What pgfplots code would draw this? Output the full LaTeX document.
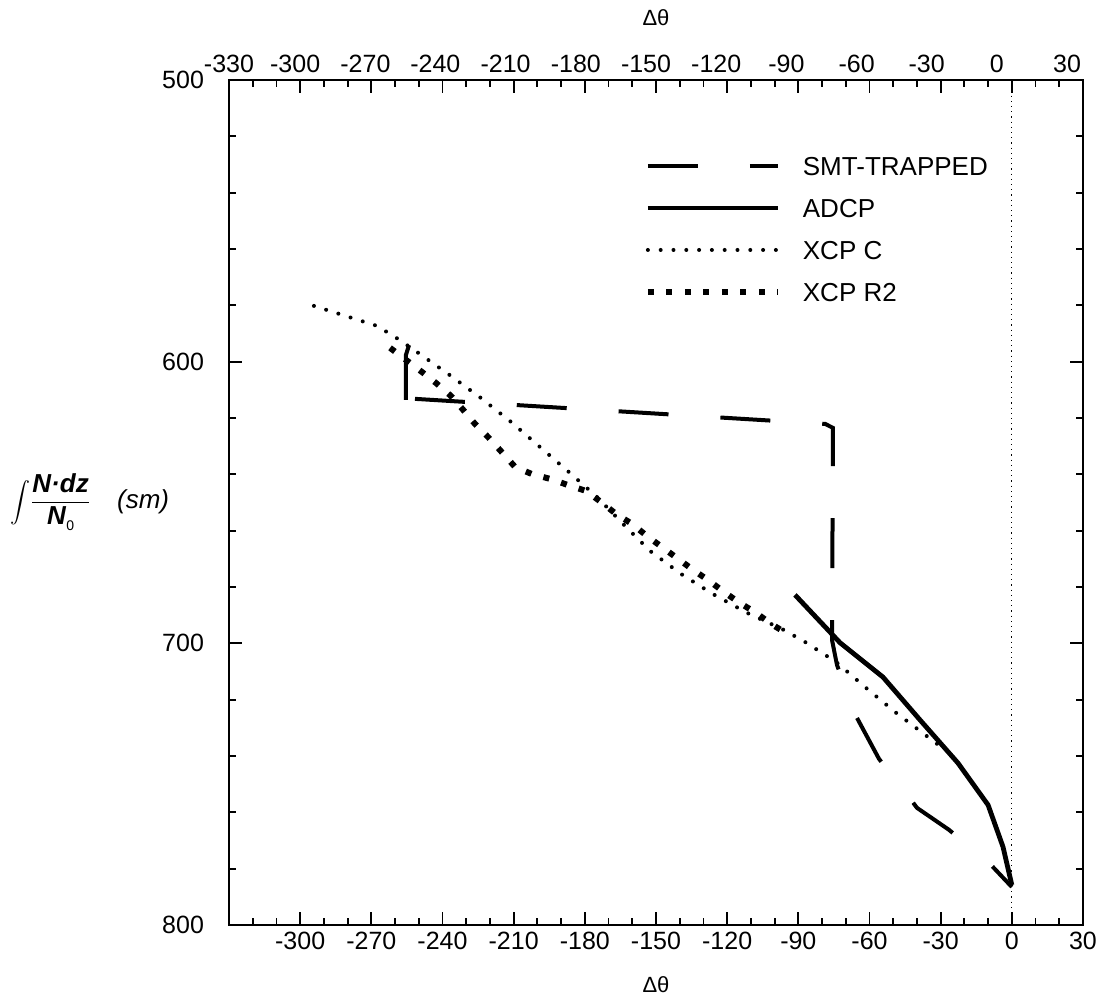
\documentclass[border=0pt]{standalone}
\usepackage{fontspec}
\setmainfont{Liberation Sans}
\usepackage{pgfplots}
\pgfplotsset{compat=1.18}

\pgfplotstableread{
x y
-254.1 594.1
-255.4 597.6
-255.4 613.6
}\smtA

\pgfplotstableread{
x y
-251.6 613.2
-78.7 622.1
-75.4 623.5
-75.8 698.8
-73.7 707.7
-65.7 725.8
-56.0 741.0
-42.1 756.0
-40.0 758.4
-26.5 766.2
-9.2 778.3
0.0 786.5
}\smt

\pgfplotstableread{
x y
-91.4 682.8
-72.4 699.8
-54.3 712.0
-38.7 727.2
-22.7 742.5
-10.0 757.4
-3.7 772.3
0.0 785.8
}\adcp

\pgfplotstableread{
x y
-294.2 580.2
-278.1 584.5
-267.6 587.3
-258.8 591.9
-249.5 597.3
-236.4 605.1
-223.8 612.9
-211.1 621.4
-198.9 630.3
-186.7 639.2
-174.9 648.0
-163.9 657.6
-152.5 667.2
-139.4 675.4
-126.0 682.5
-111.6 689.2
-96.9 694.9
-87.2 699.5
-74.1 706.6
-61.9 715.5
-49.2 724.4
-31.5 735.7
}\xcpc

\pgfplotstableread{
x y
-262.1 595.1
-248.6 603.7
-242.7 607.6
-236.4 612.2
-231.3 617.1
-226.3 622.1
-220.4 627.1
-214.9 632.2
-209.4 637.4
-202.3 639.9
-194.7 641.6
-187.1 643.8
-179.5 645.9
-173.2 649.8
-166.8 654.1
-160.1 657.6
-153.8 661.9
-147.5 665.8
-140.7 670.0
-134.4 673.9
-127.6 677.8
-121.3 681.8
-114.6 685.7
-107.8 689.2
-101.5 693.1
-93.9 697.0
}\xcpr

\begin{document}
\begin{tikzpicture}
\useasboundingbox (-114.5pt,-40pt) rectangle (435pt,462.5pt);
\begin{axis}[
  at={(0pt,0pt)}, anchor=south west,
  scale only axis, width=427pt, height=422.5pt,
  xmin=-330, xmax=30, ymin=500, ymax=800, y dir=reverse,
  xtick={-330,-300,...,30},
  xticklabels={{},-300,-270,-240,-210,-180,-150,-120,-90,-60,-30,0,30},
  minor xtick={-330,-320,...,30},
  ytick={500,600,700,800},
  minor ytick={500,520,...,800},
  tick pos=both, tick align=inside,
  major tick length=6.5pt, minor tick length=3.5pt,
  axis line style={line width=1pt},
  every tick/.style={black, line width=0.9pt},
  tick label style={font=\fontsize{12.5}{15}\selectfont},
  /pgf/number format/assume math mode=true,
  yticklabel style={xshift=-9pt},
  legend style={draw=none, fill=none, at={(axis description cs:0.487,0.9095)}, anchor=north west,
    inner sep=0pt, outer sep=0pt, row sep=11.5pt,
    nodes={inner sep=0pt, text height=9.5pt, text depth=0pt},
    font=\fontsize{13}{15}\selectfont,
    /tikz/every odd column/.append style={column sep=11pt}},
  legend cell align=left,
  legend image code/.code={\draw[#1] (0pt,0pt) -- (65pt,0pt);},
]
\addplot[black, line width=2pt, dash pattern=on 25pt off 26pt] table {\smt};
\addlegendentry{SMT-TRAPPED}
\addplot[black, line width=2.4pt, line join=round] table {\adcp};
\addlegendentry{ADCP}
\addplot[black, line width=2pt, line cap=round, dash pattern=on 0pt off 6.4pt] table {\xcpc};
\addlegendentry{XCP C}
\addplot[black, line width=3pt, line cap=butt, dash pattern=on 3pt off 6.25pt] table {\xcpr};
\addlegendentry{XCP R2}
\addplot[black, line width=2pt, forget plot] table {\smtA};
\addplot[black, line width=0.6pt, dotted, forget plot] coordinates {(0,500) (0,800)};
\end{axis}
\begin{axis}[
  at={(0pt,0pt)}, anchor=south west,
  scale only axis, width=427pt, height=422.5pt,
  xmin=-330, xmax=30, ymin=500, ymax=800, y dir=reverse,
  axis x line*=top, hide y axis,
  axis line style={draw=none},
  xtick={-330,-302.1,-272.5,-243,-213.4,-183.8,-154.2,-124.6,-95,-65.4,-35.9,-6.3,23.3},
  xticklabels={-330,-300,-270,-240,-210,-180,-150,-120,-90,-60,-30,0,30},
  major tick length=0pt, xtick style={draw=none},
  tick label style={font=\fontsize{12.5}{15}\selectfont},
  /pgf/number format/assume math mode=true,
]
\end{axis}
\node[font=\fontsize{11}{13}\selectfont] at (213.5pt,453.5pt) {Δθ};
\node[font=\fontsize{11}{13}\selectfont] at (213.5pt,-30pt) {Δθ};
\node[anchor=west, font=\fontsize{13}{15}\selectfont] at (-113pt,211.5pt)
  {$\displaystyle\int\!\frac{\textbf{\textit{N·dz}}}{\textbf{\textit{N}}\raisebox{-0.4ex}{\scriptsize 0}}$\quad\textit{(sm)}};
\end{tikzpicture}
\end{document}
